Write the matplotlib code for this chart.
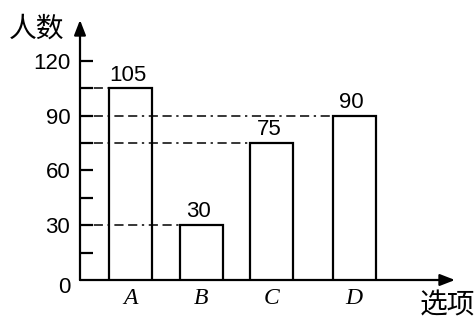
import matplotlib.pyplot as plt

plt.rcParams['font.family'] = ['Liberation Sans', 'Noto Sans CJK SC', 'DejaVu Sans']

# survey counts per option
options = ['A', 'B', 'C', 'D']
counts = [105, 30, 75, 90]
y_ticks = [30, 60, 90, 120]
y_minor = [15, 45, 75, 105]

# bar layout (category units)
xpos = [1, 2, 3, 4.17]
bar_w = 0.61
x0, x_end = 0.277, 5.6
y_top = 142.4

fig = plt.figure(figsize=(4.75, 3.22), dpi=100)
ax = fig.add_axes([80 / 475, 42 / 322, 375 / 475, 260 / 322])
ax.set_xlim(x0, x_end)
ax.set_ylim(0, y_top)
for s in ax.spines.values():
    s.set_visible(False)

# axes with arrow heads
arrow = dict(arrowstyle='-|>,head_length=0.9,head_width=0.35', color='black',
             lw=1.6, shrinkA=0, shrinkB=0)
ax.annotate('', xy=(x_end, 0), xytext=(x0, 0), arrowprops=arrow,
            annotation_clip=False)
ax.annotate('', xy=(x0, y_top), xytext=(x0, 0), arrowprops=arrow,
            annotation_clip=False)

ax.bar(xpos, counts, width=bar_w, facecolor='white', edgecolor='black',
       linewidth=1.6, zorder=3)

# guide lines from the y axis to each bar's left edge
for x, v in zip(xpos, counts):
    ax.plot([x0, x - bar_w / 2], [v, v], color='black', lw=1.1,
            linestyle=(0, (6, 3, 6, 3, 1.5, 3)), zorder=4)

for x, v in zip(xpos, counts):
    ax.text(x - 0.04, v + 1.5, str(v), ha='center', va='bottom', fontsize=16)

ax.set_xticks(xpos)
ax.set_xticklabels(options, fontfamily='Liberation Serif', fontstyle='italic',
                   fontsize=17)
ax.tick_params(axis='x', length=0, pad=6)

ax.set_yticks(y_ticks)
ax.set_yticklabels([str(t) for t in y_ticks], fontsize=16)
ax.set_yticks(y_minor, minor=True)
ax.tick_params(axis='y', which='both', direction='in', length=9, width=1.6,
               pad=7)
ax.annotate('0', xy=(x0, 0), xytext=(-7, 2), textcoords='offset points',
            ha='right', va='top', fontsize=16, annotation_clip=False)

fig.text(9 / 475, 1 - 30 / 322, '人数', fontsize=20, va='center', ha='left')
fig.text(475 / 475, 1 - 306 / 322, '选项', fontsize=20, va='center', ha='right')

fig.savefig('out.png', dpi=100)
